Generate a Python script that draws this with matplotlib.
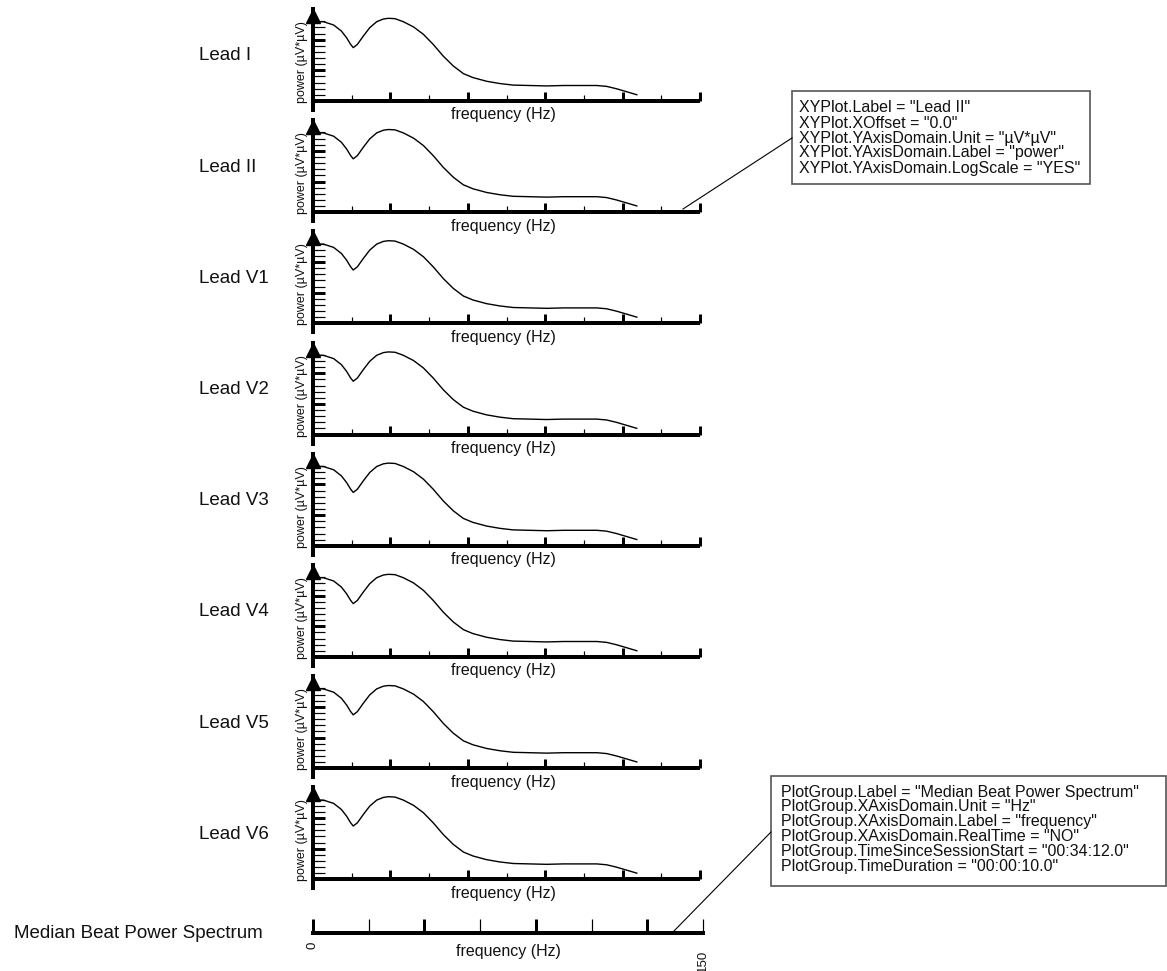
import matplotlib
matplotlib.use("Agg")
import matplotlib.pyplot as plt
from matplotlib.lines import Line2D
from matplotlib.patches import Rectangle
from matplotlib.ticker import FixedLocator, NullFormatter

# ---------------- data ----------------
leads = ["Lead I", "Lead II", "Lead V1", "Lead V2", "Lead V3", "Lead V4", "Lead V5", "Lead V6"]
freq_hz = [1, 4, 8, 11, 13, 14.6, 15.6, 17.2, 19.5, 22, 24.7, 27.3, 29.2, 31.8, 35, 39,
           42.8, 46.6, 50.5, 54.4, 58.3, 62, 67.3, 72.5, 77.6, 84, 90.6, 97, 103.5,
           110, 113.8, 117.7, 121.6, 125.5]
power_uv2 = [386, 386, 301, 191, 116, 70, 55, 70, 131, 246, 386, 472, 497, 484, 386, 259,
             149, 70, 29, 13.8, 7.8, 5.8, 4.4, 3.7, 3.3, 3.2, 3.1, 3.2, 3.2,
             3.2, 3.0, 2.5, 2.0, 1.6]
x_major = [30, 60, 90, 120, 150]
x_minor = [15, 45, 75, 105, 135]
y_major = [10, 100]
y_minor_exp = [1, 2, 3, 4, 6, 7, 8, 9, 11, 12, 13]  # fifths of a decade
group_ticks_major = [0, 2, 4, 6]
group_ticks_minor = [1, 3, 5, 7]
group_max = 150
xy_note = ['XYPlot.Label = "Lead II"',
           'XYPlot.XOffset = "0.0"',
           'XYPlot.YAxisDomain.Unit = "µV*µV"',
           'XYPlot.YAxisDomain.Label = "power"',
           'XYPlot.YAxisDomain.LogScale = "YES"']
group_note = ['PlotGroup.Label = "Median Beat Power Spectrum"',
              'PlotGroup.XAxisDomain.Unit = "Hz"',
              'PlotGroup.XAxisDomain.Label = "frequency"',
              'PlotGroup.XAxisDomain.RealTime = "NO"',
              'PlotGroup.TimeSinceSessionStart = "00:34:12.0"',
              'PlotGroup.TimeDuration = "00:00:10.0"']

# ---------------- layout ----------------
W, H = 1167, 971
plt.rcParams['font.family'] = ['Liberation Sans', 'DejaVu Sans']
fig = plt.figure(figsize=(W / 100, H / 100), dpi=100)
fig.patch.set_facecolor('white')

def fx(px):
    return px / W

def fy(py):
    return 1 - py / H

PX = 0.72  # points per pixel at 100 dpi
X0, X1 = 313, 700
DEC = 92 / 3.0  # pixels per decade
axis_rows = [101 + i * 111.2 for i in range(len(leads))]
TXT = '#111111'

for name, ay in zip(leads, axis_rows):
    below = 9
    top = ay - 92
    ax = fig.add_axes([fx(X0), fy(ay + below), (X1 - X0) / W, (ay + below - top) / H])
    ax.set_facecolor('none')
    ax.set_yscale('log')
    ax.set_xlim(0, 150)
    ax.set_ylim(10 ** (-below / DEC), 1e3)
    for s in ('top', 'right'):
        ax.spines[s].set_visible(False)
    ax.spines['bottom'].set_position(('data', 1.0))
    ax.spines['bottom'].set_linewidth(4 * PX)
    ax.spines['left'].set_linewidth(4 * PX)
    ax.spines['bottom'].set_capstyle('butt')
    ax.xaxis.set_major_locator(FixedLocator(x_major))
    ax.xaxis.set_minor_locator(FixedLocator(x_minor))
    ax.yaxis.set_major_locator(FixedLocator(y_major))
    ax.yaxis.set_minor_locator(FixedLocator([10 ** (k / 5) for k in y_minor_exp]))
    for a in (ax.xaxis, ax.yaxis):
        a.set_major_formatter(NullFormatter())
        a.set_minor_formatter(NullFormatter())
    ax.tick_params(axis='x', which='major', direction='in', length=9 * PX, width=3 * PX)
    ax.tick_params(axis='x', which='minor', direction='in', length=6 * PX, width=1.2 * PX)
    ax.tick_params(axis='y', which='major', direction='in', length=12 * PX, width=3 * PX)
    ax.tick_params(axis='y', which='minor', direction='in', length=12 * PX, width=1.2 * PX)
    ax.plot(freq_hz, power_uv2, color='black', lw=1.0)
    ax.plot([0], [10 ** (3 - 7 / DEC)], marker='^', ms=14 * PX, color='black',
            clip_on=False, zorder=5)
    fig.text(fx(199), fy(ay - 45), name, fontsize=13.5, ha='left', va='center', color=TXT)
    fig.text(fx(503), fy(ay + 14), 'frequency (Hz)', fontsize=11.5, ha='center',
             va='center', color=TXT)
    fig.text(fx(302), fy(ay - 39), 'power (µV*µV)', fontsize=9, rotation=90,
             ha='center', va='center', color=TXT)

# bottom group axis
GB = 933
axb = fig.add_axes([fx(313), fy(GB), (703 - 313) / W, 20 / H])
axb.set_facecolor('none')
axb.set_xlim(0, group_max)
axb.set_ylim(0, 1)
for s in ('top', 'right', 'left'):
    axb.spines[s].set_visible(False)
axb.spines['bottom'].set_linewidth(4 * PX)
axb.set_yticks([])
axb.xaxis.set_major_locator(FixedLocator([group_max * t / 7 for t in group_ticks_major]))
axb.xaxis.set_minor_locator(FixedLocator([group_max * t / 7 for t in group_ticks_minor]))
axb.xaxis.set_major_formatter(NullFormatter())
axb.xaxis.set_minor_formatter(NullFormatter())
axb.tick_params(axis='x', which='major', direction='in', length=14 * PX, width=3 * PX)
axb.tick_params(axis='x', which='minor', direction='in', length=14 * PX, width=1.2 * PX)
fig.text(fx(313), fy(945), '0', fontsize=9.5, rotation=90, ha='center', va='center', color=TXT)
fig.text(fx(703), fy(961), '150', fontsize=9.5, rotation=90, ha='center', va='center', color=TXT)
fig.text(fx(508), fy(951), 'frequency (Hz)', fontsize=11.5, ha='center', va='center', color=TXT)
fig.text(fx(14), fy(933), 'Median Beat Power Spectrum', fontsize=13.5, ha='left',
         va='center', color=TXT)

# annotation boxes
fig.add_artist(Line2D([fx(792), fx(683)], [fy(138), fy(209)], color='black', lw=0.8))
fig.add_artist(Rectangle((fx(792), fy(184)), (1090 - 792) / W, (184 - 91) / H,
                         facecolor='white', edgecolor='#555555', lw=1.2))
for i, t in enumerate(xy_note):
    fig.text(fx(799), fy(108 + 15 * i), t, fontsize=11.5, ha='left', va='center', color=TXT)

fig.add_artist(Line2D([fx(771), fx(672)], [fy(832), fy(933)], color='black', lw=0.8))
fig.add_artist(Rectangle((fx(771), fy(886)), (1166 - 771) / W, (886 - 776) / H,
                         facecolor='white', edgecolor='#555555', lw=1.2))
for i, t in enumerate(group_note):
    fig.text(fx(781), fy(792 + 14.8 * i), t, fontsize=11.5, ha='left', va='center', color=TXT)

fig.savefig('out.png', dpi=100, facecolor='white')
